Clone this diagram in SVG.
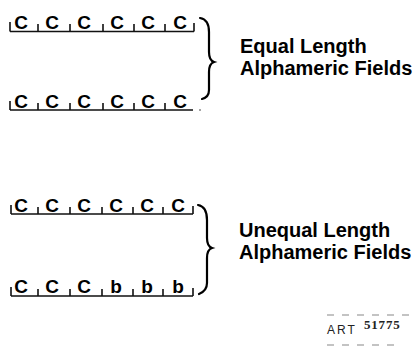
<svg xmlns="http://www.w3.org/2000/svg" width="413" height="346" viewBox="0 0 413 346">
<style>
.ch{font-family:"Liberation Sans",Arial,sans-serif;font-weight:bold;font-size:19px;fill:#000;text-anchor:middle}
.lbl{font-family:"Liberation Sans",Arial,sans-serif;font-weight:bold;font-size:20px;fill:#000}
.ln{stroke:#111;stroke-width:1.6;fill:none}
.br{stroke:#000;stroke-width:2.2;fill:none;stroke-linecap:round}
.dash{stroke:#888;stroke-width:1.2;stroke-dasharray:7 8}
</style>
<rect width="413" height="346" fill="#fff"/>
<g id="row1">
<path class="ln" d="M10,31.5 H194 M10,22 V31.5 M38,24 V31.5 M70,24 V31.5 M103,24 V31.5 M134,24 V31.5 M165,24 V31.5 M194,23 V31.5"/>
<text class="ch" x="21" y="29">C</text><text class="ch" x="52" y="29">C</text><text class="ch" x="84" y="29">C</text><text class="ch" x="117" y="29">C</text><text class="ch" x="148" y="29">C</text><text class="ch" x="180" y="29">C</text>
</g>
<g id="row2">
<path class="ln" d="M10,110 H193 M10,101 V110 M38,103 V110 M70,103 V110 M103,103 V110 M134,103 V110 M165,103 V110"/>
<circle cx="200" cy="110" r="0.8" fill="#333"/>
<text class="ch" x="21" y="108">C</text><text class="ch" x="52" y="108">C</text><text class="ch" x="84" y="108">C</text><text class="ch" x="117" y="108">C</text><text class="ch" x="148" y="108">C</text><text class="ch" x="180" y="108">C</text>
</g>
<g id="row3">
<path class="ln" d="M11,214 H193 M11,205 V214 M38,207 V214 M70,207 V214 M102,207 V214 M133,207 V214 M163,207 V214 M193,206 V214"/>
<text class="ch" x="21" y="212">C</text><text class="ch" x="52" y="212">C</text><text class="ch" x="84" y="212">C</text><text class="ch" x="116" y="212">C</text><text class="ch" x="147" y="212">C</text><text class="ch" x="178" y="212">C</text>
</g>
<g id="row4">
<path class="ln" d="M11,296 H193 M11,287 V296 M38,289 V296 M70,289 V296 M102,289 V296 M133,289 V296 M163,289 V296 M193,288 V296"/>
<text class="ch" x="21" y="293">C</text><text class="ch" x="52" y="293">C</text><text class="ch" x="84" y="293">C</text><text class="ch" x="116" y="293">b</text><text class="ch" x="147" y="293">b</text><text class="ch" x="178" y="293">b</text>
</g>
<g id="brace1">
<path class="br" d="M200,18 C206,19 209,24 209,32 L209,52 C209,58 211,61 214,62 C211,63 209,66 209,72 L209,90 C209,95 206,98 202,99"/>
</g>
<g id="brace2">
<path class="br" d="M198,205 C204,206 207,211 207,220 L207,238 C207,244 209,247 212,248 C209,249 207,252 207,258 L207,283 C207,289 204,292 199,294"/>
</g>
<g id="label1">
<text class="lbl" x="240" y="53">Equal Length</text>
<text class="lbl" x="240" y="75">Alphameric Fields</text>
</g>
<g id="label2">
<text class="lbl" x="239" y="237">Unequal Length</text>
<text class="lbl" x="239" y="259">Alphameric Fields</text>
</g>
<g id="art">
<line class="dash" x1="327" y1="315" x2="411" y2="315"/>
<line class="dash" x1="327" y1="345" x2="396" y2="345"/>
<text x="327" y="334" font-family="Liberation Sans,Arial,sans-serif" font-size="12" letter-spacing="2" fill="#222">ART</text>
<text x="364" y="329" font-family="Liberation Serif,Times New Roman,serif" font-weight="bold" font-size="13" letter-spacing="0.8" fill="#222">51775</text>
</g>
</svg>
